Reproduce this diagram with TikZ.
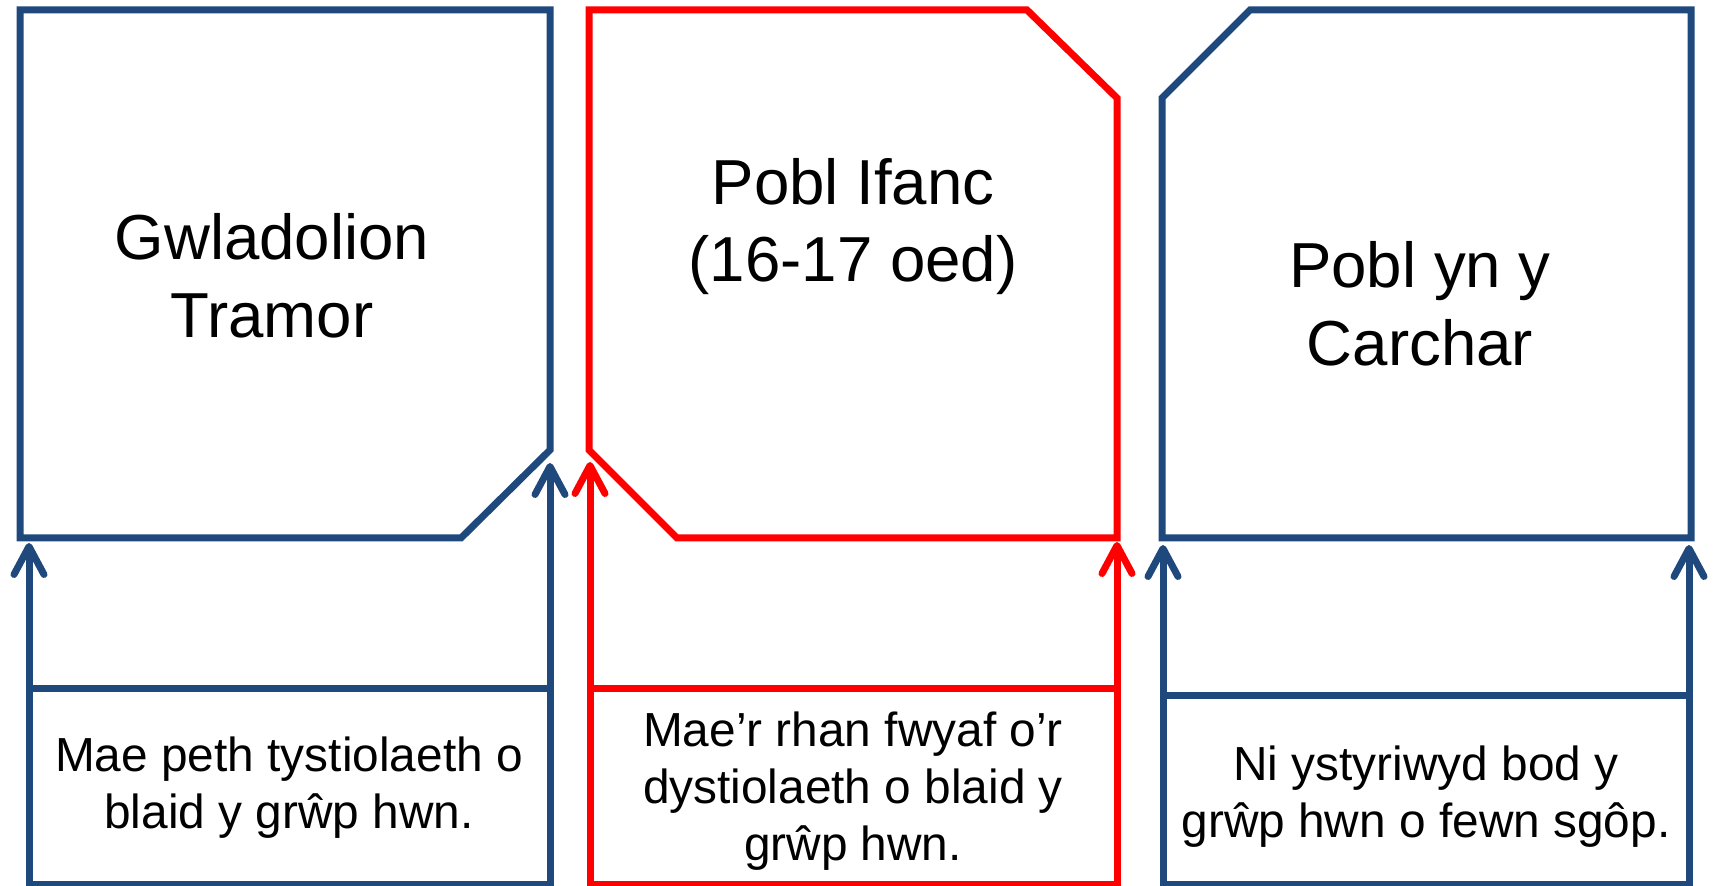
\documentclass[tikz,border=0pt]{standalone}
\usepackage{fontspec}
\setmainfont{Liberation Sans}
\usetikzlibrary{arrows.meta}
\definecolor{navy}{HTML}{1F497D}
\definecolor{pred}{HTML}{FF0000}
\tikzset{
  outline/.style={line width=3.5pt, line join=miter},
  ttl/.style={font=\fontsize{31.8}{38.8}\selectfont, align=center, inner sep=0pt},
  btxt/.style={font=\fontsize{23.9}{28.5}\selectfont, align=center, inner sep=0pt},
  arr/.style={line width=3.5pt, -{Straight Barb[length=14pt,width=15pt,line cap=round,line join=round]}},
}
\begin{document}
\begin{tikzpicture}[x=0.5pt,y=-0.5pt]
\useasboundingbox (0,0) rectangle (1713,886);
% top shapes
\draw[outline, navy] (20,10) -- (550,10) -- (550,450) -- (461,538) -- (20,538) -- cycle;
\draw[outline, pred] (589,10) -- (1027,10) -- (1117,98) -- (1117,538) -- (677,538) -- (589,450) -- cycle;
\draw[outline, navy] (1162,98) -- (1250,10) -- (1691,10) -- (1691,538) -- (1162,538) -- cycle;
% titles
\node[ttl] (g1) at (272,276) {Gwladolion\\Tramor};
\node[ttl] (g2) at (853,226.5) {Pobl Ifanc\\(16-17 oed)};
\node[ttl] (g3) at (1420,303.5) {Pobl yn y\\Carchar};
% bottom boxes
\coordinate (b1nw) at (29,689);  \coordinate (b1se) at (550,884);
\coordinate (b1ne) at (550,689);
\coordinate (b2nw) at (590,689); \coordinate (b2se) at (1117,884);
\coordinate (b2ne) at (1117,689);
\coordinate (b3nw) at (1163,696); \coordinate (b3se) at (1689,884);
\coordinate (b3ne) at (1689,696);
\draw[outline, navy] (b1nw) rectangle (b1se);
\draw[outline, pred] (b2nw) rectangle (b2se);
\draw[outline, navy] (b3nw) rectangle (b3se);
\node[btxt] (t1) at (289,787.5) {Mae peth tystiolaeth o\\blaid y grŵp hwn.};
\node[btxt] (t2) at (853,791.5) {Mae’r rhan fwyaf o’r\\dystiolaeth o blaid y\\grŵp hwn.};
\node[btxt] (t3) at (1426,797) {Ni ystyriwyd bod y\\grŵp hwn o fewn sgôp.};
% arrow tips
\coordinate (a1l) at (29,543);
\coordinate (a1r) at (550,463);
\coordinate (a2l) at (590,462);
\coordinate (a2r) at (1117,542);
\coordinate (a3l) at (1163,545);
\coordinate (a3r) at (1689,545);
\draw[arr, navy] (b1nw) -- (a1l);
\draw[arr, navy] (b1ne) -- (a1r);
\draw[arr, pred] (b2nw) -- (a2l);
\draw[arr, pred] (b2ne) -- (a2r);
\draw[arr, navy] (b3nw) -- (a3l);
\draw[arr, navy] (b3ne) -- (a3r);
\end{tikzpicture}
\end{document}
